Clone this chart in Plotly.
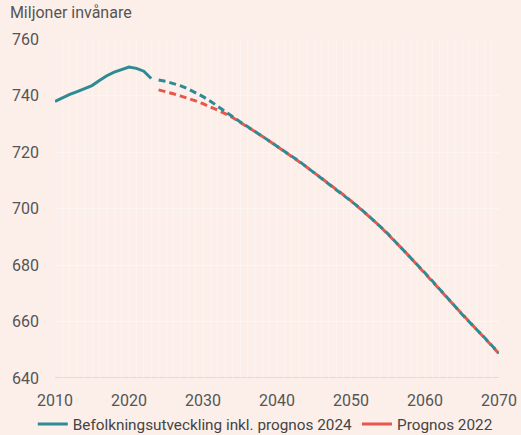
import plotly.graph_objects as go

hist_years = list(range(2010, 2024))
hist_values = [737.9, 739.2, 740.4, 741.4, 742.4, 743.5, 745.3, 747.0, 748.3, 749.3,
               750.1, 749.6, 748.6, 746.0]

prog_years = list(range(2024, 2071))
prog2024_values = [745.5, 745.0, 744.2, 743.4, 742.3, 741.0, 739.6, 738.0, 736.1, 734.2,
                   732.4, 730.7, 729.0, 727.4, 725.6, 723.8, 722.1, 720.4, 718.5, 716.7,
                   714.7, 712.7, 710.9, 708.9, 706.9, 704.8, 702.7, 700.6, 698.3, 696.0,
                   693.5, 691.0, 688.3, 685.5, 682.7, 680.0, 677.2, 674.3, 671.3, 668.4,
                   665.5, 662.6, 659.8, 657.2, 654.4, 651.6, 648.8]
prog2022_values = [742.0, 741.4, 740.6, 739.8, 739.0, 738.1, 737.1, 736.0, 734.9, 733.6,
                   732.2, 730.6, 729.0, 727.3, 725.6, 723.8, 722.0, 720.3, 718.5, 716.6,
                   714.7, 712.7, 710.8, 708.8, 706.8, 704.8, 702.7, 700.5, 698.2, 695.9,
                   693.5, 690.9, 688.3, 685.5, 682.7, 679.9, 677.1, 674.2, 671.3, 668.4,
                   665.5, 662.6, 659.8, 657.1, 654.3, 651.5, 648.6]

teal = "#2e8a94"
red = "#e8574c"
bg = "#fcefea"
font = "Roboto"

fig = go.Figure()
fig.add_trace(go.Scatter(x=prog_years, y=prog2022_values, mode="lines",
                         line=dict(color=red, width=3, dash="7px,4px"),
                         showlegend=False, hoverinfo="skip"))
fig.add_trace(go.Scatter(x=prog_years, y=prog2024_values, mode="lines",
                         line=dict(color=teal, width=3, dash="7px,4px"),
                         showlegend=False))
fig.add_trace(go.Scatter(x=hist_years, y=hist_values, mode="lines",
                         line=dict(color=teal, width=3),
                         name="Befolkningsutveckling inkl. prognos 2024", legendrank=1))
fig.add_trace(go.Scatter(x=[None], y=[None], mode="lines",
                         line=dict(color=red, width=3),
                         name="Prognos 2022", legendrank=2))

fig.update_layout(
    width=521, height=435,
    paper_bgcolor=bg, plot_bgcolor=bg,
    margin=dict(l=55, r=22, t=39, b=57, autoexpand=False),
    font=dict(family=font, size=15, color="#555555"),
    title=dict(text="Miljoner invånare", xref="container", x=0.019, y=0.972,
               yanchor="middle", font=dict(size=16, color="#555555")),
    legend=dict(orientation="h", xref="paper", yref="paper",
                xanchor="left", x=-0.05, yanchor="middle", y=-0.136,
                font=dict(size=15.3, color="#444444"), bgcolor="rgba(0,0,0,0)",
                itemwidth=30, tracegroupgap=0),
    showlegend=True,
)
fig.update_xaxes(range=[2010, 2070], tickmode="linear", tick0=2010, dtick=10,
                 showgrid=True, gridcolor="rgba(255,255,255,0.35)", gridwidth=1,
                 minor=dict(dtick=1, showgrid=True, gridcolor="rgba(255,255,255,0.35)"),
                 zeroline=False, showline=False, ticks="", ticklabelstandoff=11,
                 tickfont=dict(size=16))
fig.update_yaxes(range=[640, 760], tickmode="linear", tick0=640, dtick=20,
                 showgrid=True, gridcolor="rgba(255,255,255,0.4)", gridwidth=1,
                 zeroline=False, showline=False, ticks="", ticklabelstandoff=15,
                 tickfont=dict(size=16))
fig.add_shape(type="line", xref="paper", yref="y", x0=0, x1=1, y0=640, y1=640,
              line=dict(color="#dcdcdc", width=2), layer="below")

fig.write_html("out.html", config={"displayModeBar": False},
               post_script="document.body.style.margin='0';")
